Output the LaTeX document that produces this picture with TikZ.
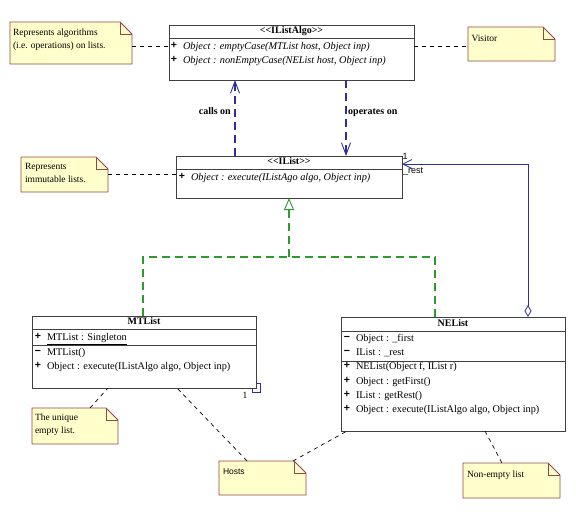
\documentclass[tikz,border=0pt]{standalone}
\usepackage{fontspec}
\setmainfont{Liberation Serif}
\setsansfont{Liberation Sans}
\usetikzlibrary{arrows.meta}
\definecolor{boxline}{HTML}{404040}
\definecolor{depblue}{HTML}{2E2E99}
\definecolor{realgreen}{HTML}{2E9A2E}
\definecolor{notefill}{HTML}{FFFFCC}
\definecolor{noteline}{HTML}{994444}
\tikzset{
  classbox/.style={draw=boxline, line width=0.9pt, fill=white, inner sep=0pt, outer sep=0pt},
  sepline/.style={draw=boxline, line width=0.9pt},
  txt/.style={inner sep=0pt, outer sep=0pt, anchor=west, text height=6.5pt, text depth=2pt},
  ctxt/.style={txt, font=\fontsize{10.3}{12}\selectfont},
  sign/.style={inner sep=0pt, outer sep=0pt, font=\fontsize{10.5}{12}\sffamily\bfseries, text height=6.5pt, text depth=2pt},
  hdr/.style={inner sep=0pt, outer sep=0pt, font=\fontsize{10}{12}\selectfont\bfseries, text height=6.5pt, text depth=2pt},
  notebox/.style={inner sep=0pt, outer sep=0pt},
  noteshape/.style={draw=noteline, fill=notefill, line width=0.9pt},
  notetxt/.style={inner sep=0pt, outer sep=0pt, anchor=north west, align=left},
  notelink/.style={draw=black, line width=0.7pt, dash pattern=on 4pt off 4pt},
  dep/.style={draw=depblue, line width=1.1pt, dash pattern=on 8pt off 5pt, -{Straight Barb[length=12pt,width=9pt,line width=0.9pt]}},
  real/.style={draw=realgreen, line width=1.2pt, dash pattern=on 8pt off 5pt},
  assoc/.style={draw=depblue, line width=0.9pt},
  lbl/.style={inner sep=0pt, font=\fontsize{10}{12}\selectfont\bfseries, text height=6.5pt, text depth=2pt},
}
\newcommand{\drawnote}[1]{%
  \path[noteshape] (#1.north west) -- ([xshift=-12pt]#1.north east) -- ([yshift=-12pt]#1.north east) -- (#1.south east) -- (#1.south west) -- cycle;
  \draw[noteline, line width=0.9pt] ([xshift=-12pt]#1.north east) -- ([xshift=-12pt,yshift=-12pt]#1.north east) -- ([yshift=-12pt]#1.north east);
}
\newcommand{\lt}{<\kern0pt<}
\newcommand{\gt}{>\kern0pt>}
\begin{document}
\begin{tikzpicture}[x=1pt,y=-1pt,font=\fontsize{9.5}{13}\selectfont]
\useasboundingbox[fill=white] (0,0) rectangle (576,520);

% ---------- IListAlgo ----------
\node[classbox, minimum width=245pt, minimum height=55pt, anchor=north west] (algo) at (169,25) {};
\draw[sepline] (169,38) -- (414,38);
\node[hdr] (algoh) at (291.5,31.5) {\lt IListAlgo\gt};
\node[sign] (algos1) at (174,46.5) {+};
\node[ctxt] (algot1) at (183,47) {\itshape Object : emptyCase(MTList host, Object inp)};
\node[sign] (algos2) at (174,60.5) {+};
\node[ctxt] (algot2) at (183,61) {\itshape Object : nonEmptyCase(NEList host, Object inp)};

% ---------- IList ----------
\node[classbox, minimum width=226pt, minimum height=42pt, anchor=north west] (ilist) at (176,156) {};
\draw[sepline] (176,169) -- (402,169);
\node[hdr] (ilisth) at (289,162.5) {\lt IList\gt};
\node[sign] (ilists1) at (182,177.5) {+};
\node[ctxt] (ilistt1) at (191,178) {\itshape Object : execute(IListAgo algo, Object inp)};

% ---------- MTList ----------
\node[classbox, minimum width=224pt, minimum height=72pt, anchor=north west] (mtlist) at (32,316) {};
\draw[sepline] (32,329) -- (256,329);
\draw[sepline] (32,345) -- (256,345);
\node[hdr] (mth) at (144,322.5) {MTList};
\node[sign] (mts1) at (38,337.5) {+};
\node[ctxt] (mtt1) at (47,338) {\underline{MTList : Singleton}};
\node[sign] (mts2) at (38,352.5) {−};
\node[ctxt] (mtt2) at (47,353) {MTList()};
\node[sign] (mts3) at (38,366.5) {+};
\node[ctxt] (mtt3) at (47,367) {Object : execute(IListAlgo algo, Object inp)};

% ---------- NEList ----------
\node[classbox, minimum width=224pt, minimum height=114pt, anchor=north west] (nelist) at (341,317) {};
\draw[sepline] (341,331) -- (565,331);
\draw[sepline] (341,361) -- (565,361);
\node[hdr] (neh) at (453,324.5) {NEList};
\node[sign] (nes1) at (347,338.5) {−};
\node[ctxt] (net1) at (356,339) {Object : \_first};
\node[sign] (nes2) at (347,352.5) {−};
\node[ctxt] (net2) at (356,353) {IList : \_rest};
\node[sign] (nes3) at (347,366.5) {+};
\node[ctxt] (net3) at (356,367) {NEList(Object f, IList r)};
\node[sign] (nes4) at (347,381.5) {+};
\node[ctxt] (net4) at (356,382) {Object : getFirst()};
\node[sign] (nes5) at (347,395.5) {+};
\node[ctxt] (net5) at (356,396) {IList : getRest()};
\node[sign] (nes6) at (347,409.5) {+};
\node[ctxt] (net6) at (356,410) {Object : execute(IListAlgo algo, Object inp)};

% ---------- Notes ----------
\node[notebox, minimum width=122pt, minimum height=42pt, anchor=north west] (nalgo) at (10,22) {};
\drawnote{nalgo}
\node[notetxt] (nalgot) at (13,29) {Represents algorithms\\(i.e. operations) on lists.};

\node[notebox, minimum width=87pt, minimum height=34pt, anchor=north west] (nvis) at (468,27) {};
\drawnote{nvis}
\node[txt] (nvist) at (471.5,39) {Visitor};

\node[notebox, minimum width=87pt, minimum height=35pt, anchor=north west] (nimm) at (21,157) {};
\drawnote{nimm}
\node[notetxt] (nimmt) at (25,163.5) {Represents\\immutable lists.};

\node[notebox, minimum width=86pt, minimum height=36pt, anchor=north west] (nuni) at (32,408) {};
\drawnote{nuni}
\node[notetxt] (nunit) at (35,414) {The unique\\empty list.};

\node[notebox, minimum width=87pt, minimum height=34pt, anchor=north west] (nhost) at (219,461) {};
\drawnote{nhost}
\node[txt, font=\fontsize{8.5}{11}\sffamily] (nhostt) at (223,472) {Hosts};

\node[notebox, minimum width=97pt, minimum height=35pt, anchor=north west] (nne) at (463,463) {};
\drawnote{nne}
\node[txt] (nnet) at (467,475) {Non-empty list};

% ---------- Note links ----------
\draw[notelink] ([yshift=-3pt]nalgo.east) -- ([yshift=-3pt]nalgo.east -| algo.west);
\draw[notelink] ([yshift=-2.5pt]nvis.west -| algo.east) -- ([yshift=-2.5pt]nvis.west);
\draw[notelink] (nimm.east) -- (nimm.east -| ilist.west);
\draw[notelink] ([xshift=58pt]nuni.north west) -- ([xshift=76pt]mtlist.south west);
\draw[notelink] ([xshift=28pt]nhost.north west) -- ([xshift=145pt]mtlist.south west);
\draw[notelink] ([xshift=74pt]nhost.north west) -- ([xshift=6pt]nelist.south west);
\draw[notelink] ([xshift=144pt]nelist.south west) -- ([xshift=39pt]nne.north west);

% ---------- Dependencies ----------
\draw[dep] ([xshift=59pt]ilist.north west) -- ([xshift=59pt]ilist.north west |- algo.south);
\node[lbl, anchor=east] (callson) at (231,112) {calls on};
\draw[dep] ([xshift=177pt]algo.south west) -- ([xshift=177pt]algo.south west |- ilist.north);
\node[lbl, anchor=west] (opson) at (348,112) {operates on};

% ---------- Realization ----------
\coordinate (junc) at (289,257);
\draw[realgreen, real] ([xshift=111pt]mtlist.north west) |- (junc) -| ([xshift=94pt]nelist.north west);
\draw[realgreen, real, -{Triangle[open,length=12pt,width=10pt,line width=0.9pt,fill=white]}] (junc) -- (ilist.south);

% ---------- Association NEList -> IList ----------
\draw[assoc, {Diamond[open,length=12pt,width=7pt,line width=0.8pt,fill=white]}-{Straight Barb[length=9pt,width=9pt,line width=0.8pt]}] ([xshift=187pt]nelist.north west) |- ([yshift=-8pt]ilist.north east);
\node[inner sep=0pt, font=\fontsize{9}{10}\sffamily] (mult1) at (405,156) {1};
\node[inner sep=0pt, anchor=west, font=\fontsize{9}{10}\sffamily] (rolerest) at (403,171) {\_rest};

% ---------- MTList singleton self-association ----------
\draw[assoc] ([yshift=5pt]mtlist.south east) -- ++(4pt,0) -- ++(0,-9pt) -- ++(-8pt,0) -- ++(0,4pt);
\node[inner sep=0pt, font=\fontsize{9.5}{10}\selectfont] (mult2) at (245,395) {1};
\end{tikzpicture}
\end{document}
